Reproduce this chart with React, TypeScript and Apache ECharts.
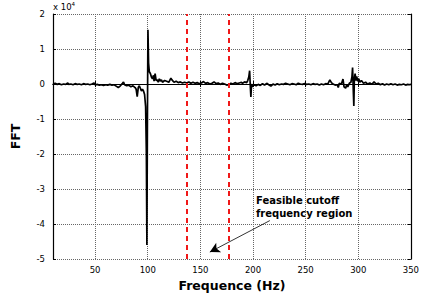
import React, { useEffect, useRef } from "react";
import * as echarts from "echarts";

const freqs = [
  10, 12, 14, 16, 18, 20, 22, 24, 25, 27, 29, 31, 33, 35, 37, 39, 41, 43, 45, 47, 49, 50,
  52, 54, 56, 58, 60, 62, 64, 66, 68, 70, 72, 74, 76, 77, 78, 80, 82, 84, 86, 88, 89, 90,
  91, 92, 93, 94, 95, 96, 97, 98, 98.7, 99.2, 99.7, 100.2, 100.8, 101.5, 102.5, 103.5,
  104.5, 105.5, 106, 107, 108, 109, 110, 111, 112, 113, 114, 116, 118, 120, 122, 123, 125,
  127, 129, 131, 133, 135, 137, 139, 141, 143, 145, 147, 149, 151, 153, 155, 157, 159, 161,
  163, 165, 167, 169, 171, 173, 175, 177, 179, 181, 183, 185, 187, 189, 190, 192, 194, 195,
  196, 196.8, 197.5, 198, 198.6, 199.5, 201, 203, 205, 207, 209, 211, 213, 215, 217, 219,
  221, 223, 225, 227, 229, 231, 233, 235, 237, 239, 241, 243, 245, 247, 249, 251, 253, 255,
  257, 259, 261, 263, 265, 267, 269, 271, 273, 274.5, 276, 278, 280, 281, 282, 284, 285.5,
  286.5, 288, 289, 290, 291.5, 293, 294, 294.6, 295.3, 295.8, 296.3, 297, 297.8, 298.5,
  299.5, 300.5, 301.5, 303, 305, 307, 309, 311, 313, 315, 317, 319, 321, 323, 325, 327, 329,
  331, 333, 335, 337, 339, 341, 343, 345, 347, 349, 350,
];

// FFT values in units of 10^4
const fftValues = [
  0.0, 0.02, -0.01, 0.01, -0.02, 0.0, -0.01, 0.03, -0.01, 0.0, -0.02, 0.01, -0.01, 0.0, -0.02,
  0.01, -0.01, 0.0, -0.02, 0.0, 0.03, -0.02,
  -0.01, -0.03, -0.02, -0.04, -0.02, -0.03, -0.01, -0.03, -0.02, -0.06, -0.1, -0.05, 0.02, 0.06,
  -0.02, -0.05, -0.03, -0.08, -0.05, -0.1, -0.15, -0.36,
  -0.1, -0.05, -0.12, -0.2, -0.15, -0.2, -0.3, -0.65, -2.0, -4.6, -1.0, 1.55, 0.6, 0.35, 0.3, 0.2,
  0.15, 0.25, 0.08, 0.3, 0.1, 0.12, 0.05, 0.15, 0.08, 0.12, 0.05, 0.1, 0.08, 0.05, 0.17, 0.12, 0.05,
  0.08, 0.04, 0.06, 0.03, 0.05, 0.03, 0.06, 0.02, 0.05, 0.02, 0.04, 0.01, 0.03, 0.07, 0.02, 0.04, 0.0, 0.02,
  0.06, 0.01, 0.03, -0.01, 0.02, 0.0, -0.03, -0.02, 0.02, 0.0, 0.04, 0.01, 0.03, 0.05, 0.02, 0.06, 0.04, 0.1,
  0.2, 0.38, -0.1, -0.37, 0.0, -0.08, -0.02, -0.05, -0.01, -0.04, 0.01, -0.03, 0.02, -0.02, -0.06, 0.0,
  -0.03, 0.01, -0.02, 0.0, -0.01, 0.02, 0.0, -0.02, 0.01, 0.0, -0.02, 0.02, 0.0, -0.01, 0.01, -0.01, 0.0, -0.02,
  0.01, -0.01, 0.0, -0.03, 0.0, -0.02, 0.01, 0.0, 0.12, 0.04, 0.0, -0.03, -0.02, -0.1, 0.02, 0.0, 0.14,
  -0.08, -0.12, -0.02, -0.08, 0.02, 0.05, 0.2, 0.47, -0.2, -0.63, 0.15, 0.3, 0.1, 0.22,
  0.08, 0.15, 0.05, 0.1, 0.02, 0.05, 0.0, 0.03, -0.01, 0.06, 0.0, 0.02, -0.02, 0.01, -0.03, 0.0, -0.02,
  0.01, -0.02, 0.0, -0.03, -0.01, -0.02, 0.0, -0.03, -0.01, -0.02, 0.0,
];

const xTickValues = [50, 100, 150, 200, 250, 300, 350];
const cutoffLines = [137, 177];
const arrowFrom = [216, -3.9];
const arrowTo = [159, -4.8];

const FONT = "DejaVu Sans";

export default function App() {
  const ref = useRef<HTMLDivElement>(null);
  useEffect(() => {
    if (!ref.current) return;
    const chart = echarts.init(ref.current, null, { renderer: "svg" });
    const data = freqs.map((f, i) => [f, fftValues[i]]);
    const gridStyle = { show: true, lineStyle: { color: "#666", type: "dotted", width: 1 } };
    const xCommon = {
      type: "value",
      min: 10,
      max: 350,
      axisLine: { show: true, lineStyle: { color: "#000", width: 1.2 } },
    };
    chart.setOption({
      animation: false,
      backgroundColor: "#fff",
      grid: { left: 53, right: 11, top: 14, bottom: 34 },
      xAxis: [
        {
          ...xCommon,
          position: "bottom",
          name: "Frequence (Hz)",
          nameLocation: "middle",
          nameGap: 19,
          nameTextStyle: { fontFamily: FONT, fontWeight: "bold", fontSize: 12.5, color: "#000" },
          axisTick: { show: true, inside: true, length: 3, customValues: xTickValues, lineStyle: { color: "#000" } },
          axisLabel: { customValues: xTickValues, fontFamily: FONT, fontSize: 8.5, color: "#000", margin: 6 },
          splitLine: gridStyle,
        },
        {
          ...xCommon,
          position: "top",
          axisTick: { show: true, inside: true, length: 3, customValues: xTickValues, lineStyle: { color: "#000" } },
          axisLabel: { show: false },
          splitLine: { show: false },
        },
      ],
      yAxis: [
        {
          type: "value",
          min: -5,
          max: 2,
          interval: 1,
          name: "FFT",
          nameLocation: "middle",
          nameGap: 31,
          nameRotate: 90,
          nameTextStyle: { fontFamily: FONT, fontWeight: "bold", fontSize: 12.5, color: "#000" },
          axisLine: { show: true, lineStyle: { color: "#000", width: 1.2 } },
          axisTick: { show: true, inside: true, length: 3, lineStyle: { color: "#000" } },
          axisLabel: { fontFamily: FONT, fontSize: 8.5, color: "#000", margin: 8 },
          splitLine: gridStyle,
        },
        {
          type: "value",
          min: -5,
          max: 2,
          interval: 1,
          position: "right",
          axisLine: { show: true, lineStyle: { color: "#000", width: 1.2 } },
          axisTick: { show: true, inside: true, length: 3, lineStyle: { color: "#000" } },
          axisLabel: { show: false },
          splitLine: { show: false },
        },
      ],
      series: [
        {
          type: "line",
          data,
          showSymbol: false,
          symbol: "none",
          lineStyle: { color: "#000", width: 1.7 },
          z: 3,
          markLine: {
            silent: true,
            symbol: ["none", "none"],
            label: { show: false },
            lineStyle: { color: "#f01818", type: [5, 4] as any, width: 2 },
            data: cutoffLines.map((v) => ({ xAxis: v })),
            z: 4,
          },
        },
        {
          type: "line",
          data: [],
          markLine: {
            silent: true,
            symbol: ["none", "arrow"],
            symbolSize: [8, 10],
            label: { show: false },
            lineStyle: { color: "#000", type: "solid", width: 0.8 },
            data: [[{ coord: arrowFrom }, { coord: arrowTo }]],
          },
        },
      ],
      graphic: [
        {
          type: "text",
          left: 53,
          top: 1,
          style: {
            text: "x 10{sup|4}",
            fontFamily: FONT,
            fontSize: 8.5,
            fill: "#000",
            rich: { sup: { fontSize: 5.5, verticalAlign: "top", padding: [0, 0, 6, 0], fontFamily: FONT } },
          },
        },
        {
          type: "text",
          left: 256,
          top: 194,
          style: {
            text: "Feasible cutoff\nfrequency region",
            fontFamily: FONT,
            fontWeight: "bold",
            fontSize: 10,
            lineHeight: 13,
            fill: "#000",
          },
        },
      ],
    });
    return () => chart.dispose();
  }, []);
  return <div ref={ref} style={{ width: 422, height: 297, position: "absolute", left: 0, top: 0 }} />;
}
